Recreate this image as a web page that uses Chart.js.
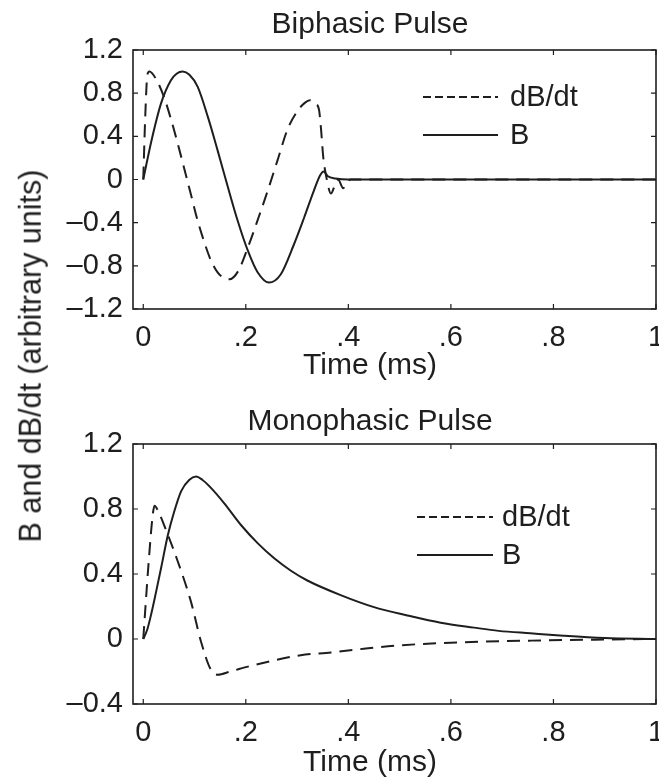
<!DOCTYPE html>
<html><head><meta charset="utf-8">
<script src="https://cdn.jsdelivr.net/npm/chart.js@4.4.1/dist/chart.umd.min.js"></script>
<style>
html,body{margin:0;padding:0;background:#fff;}
#wrap{position:relative;width:659px;height:783px;overflow:hidden;background:#fff;}
canvas{position:absolute;left:0;}
#c1{top:0;} #c2{top:390px;}
#ylab{position:absolute;left:30px;top:356px;transform:translate(-50%,-50%) rotate(-90deg);font:30.5px "Liberation Sans",Arial,sans-serif;color:#1e1e1e;white-space:nowrap;line-height:1;}
</style></head>
<body><div id="wrap"><canvas id="c1" width="659" height="390"></canvas><canvas id="c2" width="659" height="393"></canvas><div id="ylab">B and dB/dt (arbitrary units)</div></div>
<script>
// ---------- data ----------
const titleBi = 'Biphasic Pulse';
const titleMono = 'Monophasic Pulse';
const xTitle = 'Time (ms)';
const seriesNames = ['dB/dt', 'B'];

const xTicks = [0, 0.2, 0.4, 0.6, 0.8, 1];
const xTickLabels = ['0', '.2', '.4', '.6', '.8', '1'];
const yTicksBi = [-1.2, -0.8, -0.4, 0, 0.4, 0.8, 1.2];
const yTickLabelsBi = ['\u20131.2', '\u20130.8', '\u20130.4', '0', '0.4', '0.8', '1.2'];
const yTicksMono = [-0.4, 0, 0.4, 0.8, 1.2];
const yTickLabelsMono = ['\u20130.4', '0', '0.4', '0.8', '1.2'];

// Biphasic pulse: dB/dt
const timeBiD = [0, 0.004, 0.008, 0.012, 0.025, 0.04, 0.054, 0.068, 0.08, 0.093, 0.106, 0.119, 0.132, 0.145, 0.158, 0.168, 0.185, 0.204, 0.225, 0.243, 0.262, 0.281, 0.3, 0.315, 0.325, 0.337, 0.343, 0.347, 0.351, 0.358, 0.366, 0.374, 0.38, 0.39, 0.398, 0.405, 0.5, 0.7, 1.0];
const valBiD  = [0, 0.6, 0.97, 1.0, 0.93, 0.77, 0.56, 0.32, 0.1, -0.14, -0.38, -0.58, -0.75, -0.86, -0.915, -0.925, -0.85, -0.63, -0.35, -0.1, 0.18, 0.46, 0.63, 0.71, 0.735, 0.7, 0.64, 0.45, 0.21, 0.0, -0.13, -0.05, 0.0, -0.08, -0.02, 0.0, 0, 0, 0];

// Biphasic pulse: B
const timeBiB = [0, 0.016, 0.035, 0.054, 0.065, 0.077, 0.09, 0.106, 0.126, 0.145, 0.165, 0.184, 0.204, 0.223, 0.245, 0.268, 0.294, 0.314, 0.333, 0.345, 0.352, 0.36, 0.375, 0.4, 0.6, 0.8, 1.0];
const valBiB  = [0, 0.36, 0.71, 0.92, 0.98, 1.0, 0.97, 0.86, 0.58, 0.27, -0.07, -0.38, -0.66, -0.86, -0.955, -0.88, -0.6, -0.35, -0.1, 0.04, 0.075, 0.03, 0.01, 0, 0, 0, 0];

// Monophasic pulse: dB/dt
const timeMonoD = [0, 0.01, 0.018, 0.022, 0.03, 0.042, 0.067, 0.093, 0.113, 0.132, 0.145, 0.17, 0.21, 0.307, 0.366, 0.43, 0.496, 0.625, 0.755, 0.88, 1.0];
const valMonoD  = [0, 0.45, 0.75, 0.82, 0.78, 0.69, 0.48, 0.23, -0.02, -0.19, -0.22, -0.2, -0.165, -0.1, -0.083, -0.06, -0.04, -0.02, -0.01, -0.004, 0];

// Monophasic pulse: B
const timeMonoB = [0, 0.008, 0.016, 0.025, 0.035, 0.048, 0.06, 0.074, 0.09, 0.103, 0.115, 0.132, 0.158, 0.191, 0.223, 0.256, 0.288, 0.32, 0.385, 0.45, 0.515, 0.58, 0.645, 0.693, 0.755, 0.82, 0.9, 1.0];
const valMonoB  = [0, 0.06, 0.16, 0.29, 0.44, 0.64, 0.78, 0.91, 0.98, 1.0, 0.98, 0.93, 0.835, 0.70, 0.59, 0.495, 0.42, 0.36, 0.27, 0.196, 0.145, 0.1, 0.07, 0.05, 0.035, 0.02, 0.006, 0];

// ---------- rendering ----------
const INK = '#1e1e1e';
const FONT = '"Liberation Sans", Arial, Helvetica, sans-serif';

function pts(xs, ys) { return xs.map((x, i) => ({x: x, y: ys[i]})); }

const matlabAxes = {
  id: 'matlabAxes',
  afterDatasetsDraw(chart, args, opts) {
    const {ctx, chartArea: a, scales} = chart;
    ctx.save();
    ctx.setLineDash([]);
    ctx.strokeStyle = INK;
    ctx.lineWidth = 1.6;
    ctx.strokeRect(a.left, a.top, a.right - a.left, a.bottom - a.top);
    const L = 5;
    ctx.beginPath();
    scales.x.ticks.forEach(t => {
      const p = scales.x.getPixelForValue(t.value);
      ctx.moveTo(p, a.bottom); ctx.lineTo(p, a.bottom - L);
      ctx.moveTo(p, a.top); ctx.lineTo(p, a.top + L);
    });
    scales.y.ticks.forEach(t => {
      const p = scales.y.getPixelForValue(t.value);
      ctx.moveTo(a.left, p); ctx.lineTo(a.left + L, p);
      ctx.moveTo(a.right, p); ctx.lineTo(a.right - L, p);
    });
    ctx.lineWidth = 1.2;
    ctx.stroke();
    // titles
    ctx.fillStyle = INK;
    ctx.textAlign = 'center';
    ctx.textBaseline = 'middle';
    ctx.font = '30px ' + FONT;
    ctx.fillText(opts.title.text, opts.title.x, opts.title.y);
    ctx.font = '30px ' + FONT;
    ctx.fillText(opts.xTitle.text, opts.xTitle.x, opts.xTitle.y);
    // legend
    const lg = opts.legend;
    ctx.font = '29px ' + FONT;
    ctx.textAlign = 'left';
    chart.data.datasets.forEach((ds, i) => {
      const row = lg.rows[i];
      ctx.beginPath();
      ctx.lineWidth = 2.2;
      ctx.strokeStyle = ds.borderColor;
      ctx.setLineDash(ds.borderDash && ds.borderDash.length ? lg.dash : []);
      ctx.moveTo(lg.x0, row); ctx.lineTo(lg.x1, row);
      ctx.stroke();
      ctx.setLineDash([]);
      ctx.fillText(ds.label, lg.textX, row + 1);
    });
    ctx.restore();
  }
};

function makeChart(id, cfg) {
  return new Chart(document.getElementById(id), {
    type: 'line',
    data: {
      datasets: [
        { label: seriesNames[0], data: pts(cfg.dx, cfg.dy), borderColor: INK, borderWidth: 2, borderDash: [13, 8], pointRadius: 0, cubicInterpolationMode: 'monotone', fill: false },
        { label: seriesNames[1], data: pts(cfg.bx, cfg.by), borderColor: INK, borderWidth: 2, borderDash: [], pointRadius: 0, cubicInterpolationMode: 'monotone', fill: false }
      ]
    },
    options: {
      responsive: false,
      animation: false,
      devicePixelRatio: 1,
      layout: { padding: { left: 0, right: 3, top: cfg.topPad, bottom: 0 } },
      plugins: {
        legend: { display: false },
        tooltip: { enabled: false },
        title: { display: false },
        matlabAxes: { legend: cfg.legend, title: cfg.title, xTitle: cfg.xTitle }
      },
      scales: {
        x: {
          type: 'linear', min: -0.02, max: 1,
          grid: { display: false, drawTicks: false }, border: { display: false },
          afterBuildTicks: s => { s.ticks = xTicks.map(v => ({value: v})); },
          ticks: { autoSkip: false, maxRotation: 0, padding: cfg.xTickPad, color: INK,
                   font: { family: FONT, size: 29 }, callback: (v, i) => xTickLabels[i] },
          title: { display: false },
          afterFit: s => { s.height = cfg.xHeight; s.paddingLeft = 0; s.paddingRight = 0; }
        },
        y: {
          type: 'linear', min: cfg.yTicks[0], max: cfg.yTicks[cfg.yTicks.length - 1],
          grid: { display: false, drawTicks: false }, border: { display: false },
          afterBuildTicks: s => { s.ticks = cfg.yTicks.map(v => ({value: v})); },
          ticks: { autoSkip: false, padding: 10, color: INK,
                   font: { family: FONT, size: 29 }, callback: (v, i) => cfg.yLabels[i] },
          afterFit: s => { s.width = 133; s.paddingTop = 0; s.paddingBottom = 0; }
        }
      }
    },
    plugins: [matlabAxes]
  });
}

makeChart('c1', {
  topPad: 50,
  title: { text: titleBi, x: 370, y: 25 },
  xTitle: { text: xTitle, x: 370, y: 366 },
  dx: timeBiD, dy: valBiD, bx: timeBiB, by: valBiB,
  yTicks: yTicksBi, yLabels: yTickLabelsBi,
  xHeight: 81, xTickPad: 12,
  legend: { x0: 423, x1: 498, textX: 510, rows: [97, 135], dash: [8, 4] }
});
makeChart('c2', {
  topPad: 54,
  title: { text: titleMono, x: 370, y: 32 },
  xTitle: { text: xTitle, x: 370, y: 373 },
  dx: timeMonoD, dy: valMonoD, bx: timeMonoB, by: valMonoB,
  yTicks: yTicksMono, yLabels: yTickLabelsMono,
  xHeight: 79, xTickPad: 12,
  legend: { x0: 417, x1: 493, textX: 502, rows: [127, 165], dash: [8, 4] }
});
</script>
</body></html>
